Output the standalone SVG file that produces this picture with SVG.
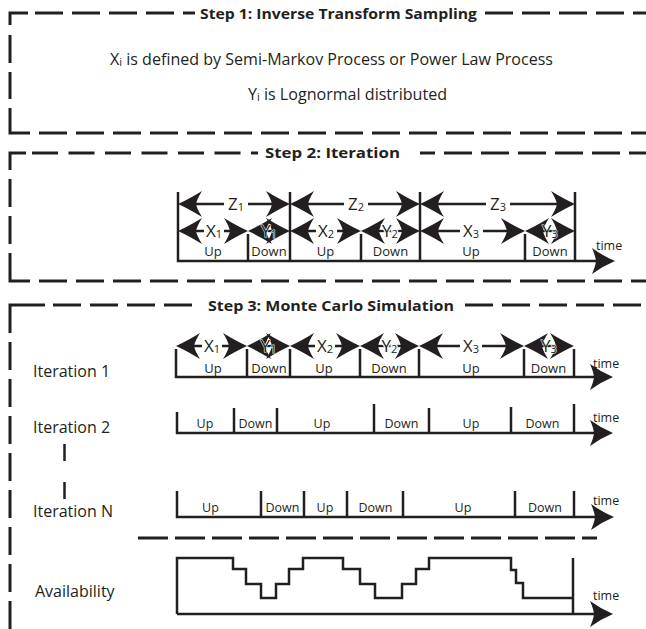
<svg xmlns="http://www.w3.org/2000/svg" width="646" height="629" viewBox="0 0 646 629">
<defs>
<style>
text{font-family:"Open Sans","Liberation Sans",sans-serif;fill:#231f20}
.title{font-weight:bold;font-size:14.5px}
.body{font-size:16px}
.lab{font-size:16px}
.ud{font-size:13px;text-anchor:middle}
.ud2{font-size:12.5px;text-anchor:middle}
.tm{font-size:12.5px}
.al{font-size:17px;text-anchor:middle;stroke:#fff;stroke-width:2.5;paint-order:stroke;stroke-linejoin:round}
.thin{stroke-width:1}
.sub{font-size:11px}
.frame{fill:none;stroke:#231f20;stroke-width:3}
.dash{stroke-dasharray:28 9}
.ln{fill:none;stroke:#231f20;stroke-width:2.5}
.arr{fill:none;stroke:#231f20;stroke-width:2.3;marker-start:url(#ah);marker-end:url(#ah)}
.axis{fill:none;stroke:#231f20;stroke-width:2.5;stroke-linejoin:miter;marker-end:url(#ax)}
</style>
<marker id="ah" markerUnits="userSpaceOnUse" orient="auto-start-reverse" viewBox="-20 -20 40 40" refX="0" refY="0" markerWidth="40" markerHeight="40" overflow="visible">
<path d="M14,0 Q3,-5 -10,-13 Q-5,-5 -4,0 Q-5,5 -10,13 Q3,5 14,0Z" fill="#231f20"/>
</marker>
<marker id="ax" markerUnits="userSpaceOnUse" orient="auto" viewBox="-20 -20 40 40" refX="0" refY="0" markerWidth="40" markerHeight="40" overflow="visible">
<path d="M18,0 Q6,-5 -5,-13 Q-1.5,-5 -1,0 Q-1.5,5 -5,13 Q6,5 18,0Z" fill="#231f20"/>
</marker>
</defs>
<rect width="646" height="629" fill="#fff"/>

<g id="step1">
<path class="frame" d="M10,25 V13 H28"/>
<path class="frame dash" d="M35,13 H195"/>
<path class="frame dash" d="M485,13 H646"/>
<path class="frame dash" d="M10,35 V99"/>
<path class="frame" d="M10,108 V133 H30"/>
<path class="frame dash" d="M39,133 H646"/>
<text class="title" x="200" y="18.5" textLength="277" lengthAdjust="spacingAndGlyphs">Step 1: Inverse Transform Sampling</text>
<text class="body" x="110" y="65" textLength="443" lengthAdjust="spacingAndGlyphs">X<tspan font-size="11" dy="1">i</tspan><tspan dy="-1"> is defined by Semi-Markov Process or Power Law Process</tspan></text>
<text class="body" x="248" y="100" textLength="199" lengthAdjust="spacingAndGlyphs">Y<tspan font-size="11" dy="1">i</tspan><tspan dy="-1"> is Lognormal distributed</tspan></text>
</g>

<g id="step2">
<path class="frame" d="M10,170 V153 H26"/>
<path class="frame" style="stroke-dasharray:26 10.5" d="M32,153 H258"/>
<path class="frame dash" style="stroke-dashoffset:13" d="M420,153 H646"/>
<path class="frame dash" d="M10,179 V245"/>
<path class="frame" d="M10,253 V281 H30"/>
<path class="frame dash" d="M39,281 H646"/>
<text class="title" x="265" y="158" textLength="135" lengthAdjust="spacingAndGlyphs">Step 2: Iteration</text>
</g>

<g id="step2-timeline">
<path class="axis" d="M178,192 V261 H597"/>
<path class="ln" d="M248,234 V261 M290,192 V261 M361,234 V261 M420,192 V261 M525,234 V261 M575,192 V261"/>
<text class="ud" x="213" y="256">Up</text>
<text class="ud" x="269" y="256">Down</text>
<text class="ud" x="325.5" y="256">Up</text>
<text class="ud" x="390.5" y="256">Down</text>
<text class="ud" x="471" y="256">Up</text>
<text class="ud" x="550" y="256">Down</text>
<text class="tm" x="596" y="250">time</text>
</g>

<g id="step3">
<path class="frame" d="M10,333 V305 H45"/>
<path class="frame dash" d="M53,305 H196"/>
<path class="frame dash" d="M465,305 H646"/>
<path class="frame dash" d="M10,342 V629"/>
<text class="title" x="208" y="311" textLength="246" lengthAdjust="spacingAndGlyphs">Step 3: Monte Carlo Simulation</text>
</g>

<g id="iteration1">
<text class="lab" x="33" y="377">Iteration 1</text>
<path class="axis" d="M176,349 V377 H595"/>
<path class="ln" d="M247,349 V377 M290,349 V377 M360,349 V377 M419,349 V377 M524,349 V377 M574,349 V377"/>
<text class="ud" x="213" y="372.5">Up</text>
<text class="ud" x="269" y="372.5">Down</text>
<text class="ud" x="324" y="372.5">Up</text>
<text class="ud" x="389" y="372.5">Down</text>
<text class="ud" x="471" y="372.5">Up</text>
<text class="ud" x="548.5" y="372.5">Down</text>
<text class="tm" x="593" y="367.5">time</text>
</g>

<g id="iteration2">
<text class="lab" x="33" y="433">Iteration 2</text>
<path class="axis" d="M177,412 V433 H595"/>
<path class="ln" d="M234,408 V433 M277,408 V433 M374,404 V433 M429,408 V433 M511,407 V433 M574,404 V433"/>
<text class="ud2" x="205" y="427.5">Up</text>
<text class="ud2" x="255.5" y="427.5">Down</text>
<text class="ud2" x="322" y="427.5">Up</text>
<text class="ud2" x="401.5" y="427.5">Down</text>
<text class="ud2" x="471" y="427.5">Up</text>
<text class="ud2" x="542.5" y="427.5">Down</text>
<text class="tm" x="593" y="421.5">time</text>
</g>

<g id="ellipsis">
<path class="ln" d="M64.5,444 V461 M64.5,482 V499"/>
</g>

<g id="iterationN">
<text class="lab" x="33" y="517">Iteration N</text>
<path class="axis" d="M177,491 V517 H596"/>
<path class="ln" d="M261,491 V517 M304,491 V517 M347,491 V517 M403,491 V517 M515,491 V517 M574,491 V517"/>
<text class="ud2" x="210.5" y="511.5">Up</text>
<text class="ud2" x="282.5" y="511.5">Down</text>
<text class="ud2" x="325" y="511.5">Up</text>
<text class="ud2" x="375.5" y="511.5">Down</text>
<text class="ud2" x="463" y="511.5">Up</text>
<text class="ud2" x="545" y="511.5">Down</text>
<text class="tm" x="593" y="505">time</text>
</g>

<g id="separator">
<path class="ln" style="stroke-width:3;stroke-dasharray:30 7" d="M138,538 H597"/>
</g>

<g id="availability">
<text class="lab" x="35" y="597">Availability</text>
<path class="axis" d="M177,614 H595"/>
<path class="ln" d="M177,614 V558 H233 V569 H246 V584 H261 V598 H276 V584 H289 V569 H303 V558 H343 V569 H360 V584 H375 V598 H402 V584 H416 V569 H429 V558 H511 V570 H516 V583 H523 V598 H573"/>
<path class="ln" d="M573,558 V614"/>
<text class="tm" x="593" y="600">time</text>
</g>

<g id="connectors">
<path class="arr" d="M192,204 H224 M248,204 H276"/>
<path class="arr" d="M304,204 H344 M368,204 H406"/>
<path class="arr" d="M434,204 H486 M510,204 H561"/>
<path class="arr" d="M192,231 H204 M224,231 H234"/>
<path class="arr" d="M262,231 H276"/>
<path class="arr" d="M304,231 H316 M337,231 H347"/>
<path class="arr" d="M375,231 H406"/>
<path class="arr" d="M434,231 H460 M483,231 H511"/>
<path class="arr" d="M539,231 H561"/>
<path class="arr" d="M190,346 H202 M222,346 H233"/>
<path class="arr" d="M261,346 H276"/>
<path class="arr" d="M304,346 H315 M335,346 H346"/>
<path class="arr" d="M374,346 H405"/>
<path class="arr" d="M433,346 H460 M482,346 H510"/>
<path class="arr" d="M538,346 H560"/>
</g>

<g id="connector-labels">
<text class="al" x="236" y="210">Z<tspan class="sub" dy="1">1</tspan></text>
<text class="al" x="356" y="210">Z<tspan class="sub" dy="1">2</tspan></text>
<text class="al" x="498" y="210">Z<tspan class="sub" dy="1">3</tspan></text>
<text class="al" x="214" y="237">X<tspan class="sub" dy="1">1</tspan></text>
<text class="al thin" x="269" y="237">Y<tspan class="sub" dy="1">1</tspan></text>
<text class="al" x="326" y="237">X<tspan class="sub" dy="1">2</tspan></text>
<text class="al" x="390" y="237">Y<tspan class="sub" dy="1">2</tspan></text>
<text class="al" x="471" y="237">X<tspan class="sub" dy="1">3</tspan></text>
<text class="al thin" x="550" y="237">Y<tspan class="sub" dy="1">3</tspan></text>
<text class="al" x="212" y="352">X<tspan class="sub" dy="1">1</tspan></text>
<text class="al thin" x="268.5" y="352">Y<tspan class="sub" dy="1">1</tspan></text>
<text class="al" x="325" y="352">X<tspan class="sub" dy="1">2</tspan></text>
<text class="al" x="389.5" y="352">Y<tspan class="sub" dy="1">2</tspan></text>
<text class="al" x="471" y="352">X<tspan class="sub" dy="1">3</tspan></text>
<text class="al thin" x="549" y="352">Y<tspan class="sub" dy="1">3</tspan></text>
</g>
</svg>
